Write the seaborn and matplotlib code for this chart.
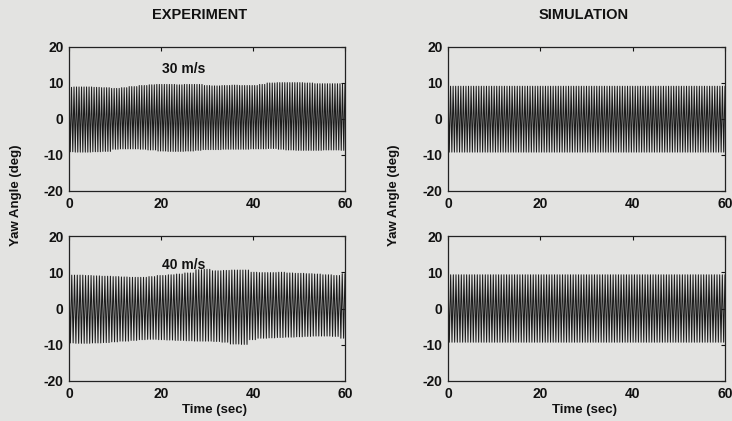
import numpy as np
import pandas as pd
import matplotlib
matplotlib.use("Agg")
import matplotlib.pyplot as plt
import seaborn as sns

# ---------------- data ----------------
# envelope readings (deg) every 2 s, 0..60 s
env_time = [0, 2, 4, 6, 8, 10, 12, 14, 16, 18, 20, 22, 24, 26, 28, 30,
            32, 34, 36, 38, 40, 42, 44, 46, 48, 50, 52, 54, 56, 58, 60]

exp30_upper = [8.8, 8.9, 8.9, 8.8, 8.7, 8.5, 8.7, 9.0, 9.3, 9.5, 9.6, 9.6, 9.5, 9.6, 9.6, 9.3,
               9.2, 9.3, 9.4, 9.3, 9.3, 9.6, 10.0, 10.1, 10.1, 10.1, 10.0, 9.8, 9.8, 9.8, 9.7]
exp30_lower = [-9.1, -9.2, -9.2, -9.1, -9.0, -8.4, -8.3, -8.3, -8.4, -8.6, -8.9, -9.0, -9.0, -8.9, -8.7, -8.5,
               -8.5, -8.4, -8.4, -8.4, -8.3, -8.3, -8.2, -8.4, -8.6, -8.7, -8.7, -8.7, -8.6, -8.6, -8.7]

exp40_upper = [9.2, 9.2, 9.1, 9.0, 8.9, 8.8, 8.7, 8.6, 8.6, 8.8, 9.1, 9.3, 9.5, 9.8, 10.7, 10.8,
               10.4, 10.5, 10.6, 10.6, 10.0, 9.9, 9.9, 10.0, 9.8, 9.7, 9.6, 9.5, 9.3, 9.1, 9.6]
exp40_lower = [-9.5, -9.6, -9.6, -9.5, -9.4, -9.2, -9.0, -8.8, -8.6, -8.5, -8.6, -8.7, -8.8, -8.9, -9.0, -9.0,
               -9.1, -9.3, -9.8, -9.9, -8.6, -8.2, -8.1, -8.0, -7.9, -7.8, -7.7, -7.6, -7.6, -7.7, -8.2]

# simulation envelopes are flat
sim_time = [0, 60]
sim30_upper = [9.1, 9.1]
sim30_lower = [-9.2, -9.2]
sim40_upper = [9.3, 9.3]
sim40_lower = [-9.3, -9.3]

# oscillation cycles counted over the 60 s record
exp30_cycles = 110
exp40_cycles = 100
sim30_cycles = 108
sim40_cycles = 104

column_titles = ["EXPERIMENT", "SIMULATION"]
speed_labels = ["30 m/s", "40 m/s"]
x_ticks = [0, 20, 40, 60]
y_ticks = [-20, -10, 0, 10, 20]
y_label = "Yaw Angle (deg)"
x_label = "Time (sec)"


def oscillation(times, upper, lower, n_cycles, t_end=60.0):
    """Zig-zag between read envelope peaks, one peak per half cycle."""
    t = np.linspace(0.0, t_end, 2 * n_cycles + 1)
    times = np.asarray(times, dtype=float)
    idx = np.abs(t[:, None] - times[None, :]).argmin(axis=1)
    up = np.asarray(upper, dtype=float)[idx]
    lo = np.asarray(lower, dtype=float)[idx]
    y = np.where(np.arange(len(t)) % 2 == 0, up, lo)
    return pd.DataFrame({"time": t, "yaw": y})


panels = [
    (0, 0, oscillation(env_time, exp30_upper, exp30_lower, exp30_cycles), speed_labels[0]),
    (0, 1, oscillation(sim_time, sim30_upper, sim30_lower, sim30_cycles), None),
    (1, 0, oscillation(env_time, exp40_upper, exp40_lower, exp40_cycles), speed_labels[1]),
    (1, 1, oscillation(sim_time, sim40_upper, sim40_lower, sim40_cycles), None),
]

# ---------------- figure ----------------
W, H = 732, 421
bg = "#e3e3e1"
ink = "#111111"
sns.set_theme(style="white")
plt.rcParams["font.family"] = ["Liberation Sans", "DejaVu Sans"]
plt.rcParams["font.weight"] = "bold"
plt.rcParams["text.color"] = ink

fig = plt.figure(figsize=(W / 100, H / 100), dpi=100, facecolor=bg)

col_left = [69, 448]
col_width = [276, 277]
row_top = [47, 236]
row_height = [144, 145]

for r, c, df, label in panels:
    ax = fig.add_axes([col_left[c] / W, 1 - (row_top[r] + row_height[r]) / H,
                       col_width[c] / W, row_height[r] / H])
    ax.set_facecolor(bg)
    sns.lineplot(data=df, x="time", y="yaw", ax=ax, sort=False, estimator=None,
                 color="#1c1c1c", linewidth=0.75)
    ax.set_xlim(0, 60)
    ax.set_ylim(-20, 20)
    ax.set_xticks(x_ticks)
    ax.set_yticks(y_ticks)
    ax.set_xticklabels([str(v) for v in x_ticks], fontweight="bold")
    ax.set_yticklabels([str(v) for v in y_ticks], fontweight="bold")
    ax.set_xlabel("")
    ax.set_ylabel("")
    ax.tick_params(direction="in", length=3, width=0.8, top=True, right=True,
                   labelsize=10, colors=ink, pad=4)
    for s in ax.spines.values():
        s.set_visible(True)
        s.set_color("#222222")
        s.set_linewidth(0.9)
    if label:
        ax.text(25, 14 if r == 0 else 12, label, ha="center", va="center",
                fontsize=10, color=ink, fontweight="bold")

# column titles
fig.text(200 / W, 1 - 15 / H, column_titles[0], ha="center", va="center", fontsize=10.5, fontweight="bold")
fig.text(584 / W, 1 - 15 / H, column_titles[1], ha="center", va="center", fontsize=10.5, fontweight="bold")

# y labels (one per column, between the two rows)
fig.text(16 / W, 1 - 195 / H, y_label, rotation=90, ha="center", va="center", fontsize=9.5, fontweight="bold")
fig.text(394 / W, 1 - 195 / H, y_label, rotation=90, ha="center", va="center", fontsize=9.5, fontweight="bold")

# x labels
fig.text(214 / W, 1 - 410 / H, x_label, ha="center", va="center", fontsize=9.5, fontweight="bold")
fig.text(585 / W, 1 - 410 / H, x_label, ha="center", va="center", fontsize=9.5, fontweight="bold")

fig.savefig("out.png", dpi=100, facecolor=bg)
